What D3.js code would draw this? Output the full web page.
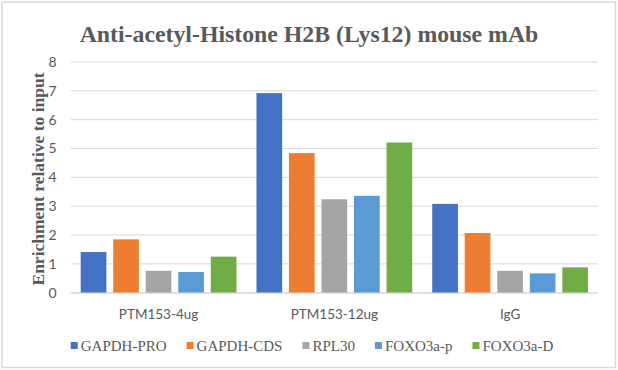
<!DOCTYPE html>
<html><head><meta charset="utf-8">
<script src="https://cdn.jsdelivr.net/npm/d3@7"></script>
<style>html,body{margin:0;padding:0;background:#fff;}svg{display:block;}</style>
</head><body>
<svg id="chart" width="618" height="370"></svg>
<script>
const title = "Anti-acetyl-Histone H2B (Lys12) mouse mAb";
const yTitle = "Enrichment relative to input";
const categories = ["PTM153-4ug", "PTM153-12ug", "IgG"];
const seriesNames = ["GAPDH-PRO", "GAPDH-CDS", "RPL30", "FOXO3a-p", "FOXO3a-D"];
const colors = ["#4472C4", "#ED7D31", "#A5A5A5", "#5B9BD5", "#70AD47"];
const gapdhPro = [1.41, 6.92, 3.08];
const gapdhCds = [1.85, 4.84, 2.07];
const rpl30 = [0.76, 3.24, 0.76];
const foxo3aP = [0.72, 3.36, 0.67];
const foxo3aD = [1.25, 5.21, 0.88];
const yTicks = [0, 1, 2, 3, 4, 5, 6, 7, 8];

const seriesValues = [gapdhPro, gapdhCds, rpl30, foxo3aP, foxo3aD];
const svg = d3.select("#chart");
const W = 618, H = 370;
const plot = {left: 70.7, right: 598, top: 62, bottom: 292.7};

// border
svg.append("rect").attr("x", 0).attr("y", 0).attr("width", W).attr("height", H).attr("fill", "#fff");
svg.append("rect").attr("x", 2).attr("y", 2).attr("width", W - 4.5).attr("height", H - 4.5)
  .attr("fill", "none").attr("stroke", "#d9d9d9").attr("stroke-width", 1.5);

const x0 = d3.scaleBand().domain(categories).range([plot.left, plot.right]).paddingInner(0).paddingOuter(0);
const inner = 10;
const x1 = d3.scaleBand().domain(seriesNames).range([inner, x0.bandwidth() - inner]).paddingInner(0.21).paddingOuter(0);
const y = d3.scaleLinear().domain([0, 8]).range([plot.bottom, plot.top]);

// gridlines
svg.append("g").selectAll("line").data(yTicks).join("line")
  .attr("x1", plot.left).attr("x2", plot.right)
  .attr("y1", d => y(d)).attr("y2", d => y(d))
  .attr("stroke", "#d9d9d9").attr("stroke-width", 1);

// y axis labels
const yAxis = d3.axisLeft(y).tickValues(yTicks).tickSize(0).tickPadding(14).tickFormat(d3.format("d"));
const gy = svg.append("g").attr("transform", `translate(${plot.left},0)`).call(yAxis);
gy.select(".domain").remove();
gy.selectAll("text").attr("font-family", "Lato, 'Liberation Sans', sans-serif").attr("font-size", 14).attr("fill", "#595959");

// bars
const groups = svg.append("g").selectAll("g").data(categories).join("g")
  .attr("transform", d => `translate(${x0(d)},0)`);
groups.selectAll("rect").data((c, ci) => seriesNames.map((s, si) => ({s, si, v: seriesValues[si][ci]})))
  .join("rect")
  .attr("x", d => x1(d.s)).attr("width", x1.bandwidth())
  .attr("y", d => y(d.v)).attr("height", d => y(0) - y(d.v))
  .attr("fill", d => colors[d.si]);

// x axis
const xAxis = d3.axisBottom(x0).tickSize(0).tickPadding(17);
const gx = svg.append("g").attr("transform", `translate(0,${plot.bottom})`).call(xAxis);
gx.select(".domain").attr("stroke", "#d9d9d9");
gx.selectAll("text").attr("font-family", "Lato, 'Liberation Sans', sans-serif").attr("font-size", 13.5).attr("fill", "#595959");

// title
svg.append("text").attr("x", 309).attr("y", 42).attr("text-anchor", "middle")
  .attr("font-family", "'Liberation Serif', 'Times New Roman', serif").attr("font-weight", "bold")
  .attr("font-size", 23.8).attr("fill", "#595959").text(title);

// y title
svg.append("text").attr("transform", `translate(44,179) rotate(-90)`).attr("text-anchor", "middle")
  .attr("font-family", "'Liberation Serif', 'Times New Roman', serif").attr("font-weight", "bold")
  .attr("font-size", 17.5).attr("fill", "#595959").text(yTitle);

// legend
const leg = svg.append("g");
const items = leg.selectAll("g").data(seriesNames).join("g");
items.append("rect").attr("width", 7).attr("height", 7).attr("y", -9).attr("fill", (d, i) => colors[i]);
items.append("text").attr("x", 10).attr("y", 0)
  .attr("font-family", "'Liberation Serif', 'Times New Roman', serif")
  .attr("font-size", 15).attr("fill", "#595959").text(d => d);
let cx = 0;
const offs = [];
items.each(function() {
  const tw = d3.select(this).select("text").node().getComputedTextLength();
  offs.push(cx);
  cx += 10 + tw + 20;
});
const total = cx - 20;
const startX = 312 - total / 2;
items.attr("transform", (d, i) => `translate(${startX + offs[i]},351)`);
</script>
</body></html>
